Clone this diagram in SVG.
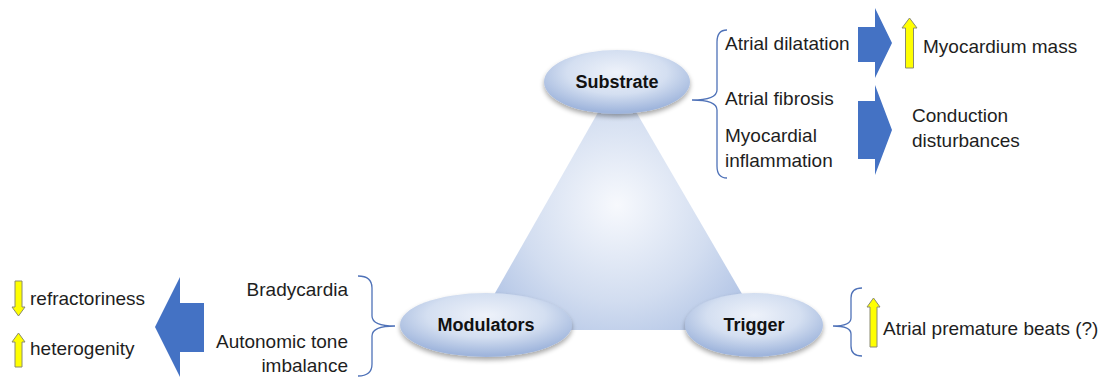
<svg xmlns="http://www.w3.org/2000/svg" width="1113" height="378" viewBox="0 0 1113 378">
<style>
.t{font-family:"Liberation Sans",Arial,sans-serif;font-size:19px;fill:#1e1e1e}
.b{font-family:"Liberation Sans",Arial,sans-serif;font-size:18px;font-weight:bold;fill:#111;text-anchor:middle}
.e{text-anchor:end}
.brace{fill:none;stroke:#4f72b8;stroke-width:1.3}
.blue{fill:#4472c4}
.yel{fill:#ffff00;stroke:#8a8a70;stroke-width:1}
.ell{fill:url(#eg);filter:url(#sh)}
</style>
<defs>
<radialGradient id="eg" cx="50%" cy="35%" r="62%">
<stop offset="0" stop-color="#eef2fa"/>
<stop offset="0.55" stop-color="#d4dff1"/>
<stop offset="1" stop-color="#9fb5dc"/>
</radialGradient>
<radialGradient id="tg" gradientUnits="userSpaceOnUse" cx="617" cy="205" r="160">
<stop offset="0" stop-color="#f7f9fd"/>
<stop offset="0.6" stop-color="#d2ddf0"/>
<stop offset="1" stop-color="#b0c3e5"/>
</radialGradient>
<filter id="sh" x="-20%" y="-30%" width="140%" height="170%">
<feGaussianBlur in="SourceAlpha" stdDeviation="2.5"/>
<feOffset dy="3" result="o"/>
<feComponentTransfer><feFuncA type="linear" slope="0.35"/></feComponentTransfer>
<feMerge><feMergeNode/><feMergeNode in="SourceGraphic"/></feMerge>
</filter>
</defs>
<rect width="1113" height="378" fill="#fff"/>
<g id="triangle">
<polygon points="617,79 763,330 474,330" fill="url(#tg)"/>
</g>
<g id="connectors">
<path class="brace" d="M727,30 Q717,30 717,42 L717,90 Q717,100 692,100 Q717,100 717,110 L717,166 Q717,178 727,178"/>
<path class="brace" d="M358,276 Q372,276 372,288 L372,316 Q372,326 395,326 Q372,326 372,336 L372,364 Q372,376 358,376"/>
<path class="brace" d="M862,288 Q851,288 851,298 L851,318 Q851,326 833,326 Q851,326 851,334 L851,346 Q851,356 862,356"/>
<path class="blue" d="M858,27 L875,27 L875,8 L892,43 L875,78 L875,62 L858,62 Z"/>
<path class="blue" d="M858,101 L875,101 L875,85 L892,130 L875,175 L875,159 L858,159 Z"/>
<path class="blue" d="M204,303 L180,303 L180,277 L155,327 L180,377 L180,352 L204,352 Z"/>
<polygon class="yel" points="909.5,18 917,28 913.5,28 913.5,68 905.5,68 905.5,28 902,28"/>
<polygon class="yel" points="873.5,298 880,307 877,307 877,347 870,347 870,307 867,307"/>
<polygon class="yel" points="18.5,333 25,342 22,342 22,367 15,367 15,342 12,342"/>
<polygon class="yel" points="15,281 22,281 22,307 25,307 18.5,316 12,307 15,307"/>
</g>
<g id="node-substrate">
<ellipse class="ell" cx="617" cy="82" rx="73" ry="32"/>
<text class="b" x="617" y="88">Substrate</text>
</g>
<g id="node-modulators">
<ellipse class="ell" cx="486" cy="325" rx="86" ry="32"/>
<text class="b" x="486" y="331">Modulators</text>
</g>
<g id="node-trigger">
<ellipse class="ell" cx="754" cy="325" rx="69" ry="32"/>
<text class="b" x="754" y="331">Trigger</text>
</g>
<g id="labels">
<text class="t" x="725" y="50">Atrial dilatation</text>
<text class="t" x="923" y="53">Myocardium mass</text>
<text class="t" x="725" y="105">Atrial fibrosis</text>
<text class="t" x="725" y="142">Myocardial</text>
<text class="t" x="725" y="167">inflammation</text>
<text class="t" x="912" y="122">Conduction</text>
<text class="t" x="912" y="147">disturbances</text>
<text class="t" x="30" y="305">refractoriness</text>
<text class="t" x="30" y="355">heterogenity</text>
<text class="t e" x="348" y="296">Bradycardia</text>
<text class="t e" x="348" y="348">Autonomic tone</text>
<text class="t e" x="348" y="372">imbalance</text>
<text class="t" x="883" y="335">Atrial premature beats (?)</text>
</g>
</svg>
